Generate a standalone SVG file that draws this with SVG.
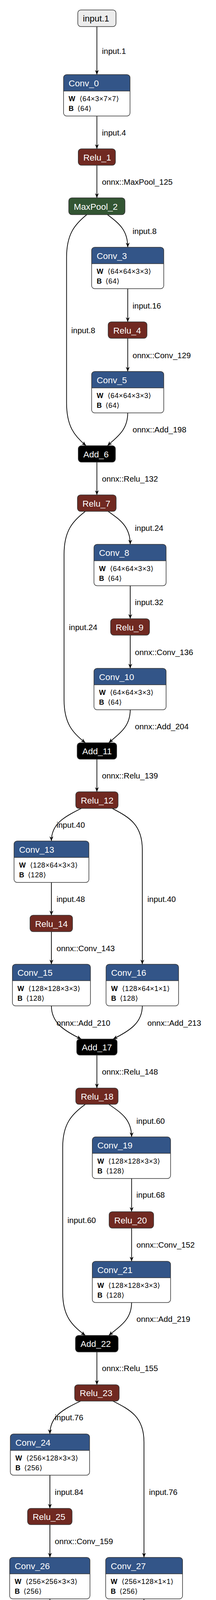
<svg xmlns="http://www.w3.org/2000/svg" width="554" height="7218" viewBox="0 0 554 7218">
<style>
text{font-family:"Liberation Sans",Arial,"DejaVu Sans",sans-serif}
.bd{fill:none;stroke:#333;stroke-width:1.5}
.wh{fill:#fff}
.io{fill:#ececec;stroke:#333;stroke-width:1.5}
.conv{fill:#335588}
.relu{fill:#702921;stroke:#333;stroke-width:1.5}
.pool{fill:#335533;stroke:#333;stroke-width:1.5}
.add{fill:#000;stroke:#333;stroke-width:1.5}
.flat{fill:#6c4f47;stroke:#333;stroke-width:1.5}
.sep{stroke:#333;stroke-width:1.5}
.t{font-size:22.5px;fill:#fff}
.tb{font-size:22.5px;fill:#000}
.a{font-size:18px;fill:#000;letter-spacing:0.6px}
.k{font-weight:bold;letter-spacing:0}
.e{fill:none;stroke:#000;stroke-width:1.8;marker-end:url(#arr)}
.l{font-size:20.5px;fill:#000}
</style>
<defs>
<marker id="arr" viewBox="0 0 12 10" refX="12" refY="5" markerWidth="12" markerHeight="10" markerUnits="userSpaceOnUse" orient="auto">
<path d="M0,0 L12,5 L0,10 L4,5 Z" fill="#000"/>
</marker>
</defs>
<rect width="554" height="7218" fill="#fff"/>

<g id="edges">
<path class="e" d="M248.5,68 V191"/><text class="l" x="261.5" y="137.5">input.1</text>
<path class="e" d="M248.5,297 V381"/><text class="l" x="261.5" y="347">input.4</text>
<path class="e" d="M248.5,423 V506.5"/><text class="l" x="261.5" y="473">onnx::MaxPool_125</text>
<path class="e" d="M222.6,549.5 C191.5,574.5 170.7,599.5 170.7,659.5 L170.7,1031 C170.7,1091 190.7,1116 220.8,1141"/><text class="l" x="182.7" y="853">input.8</text>
<path class="e" d="M275.6,549.5 C304.2,571.5 327.6,588 327.6,633"/><text class="l" x="340" y="599">input.8</text>
<path class="e" d="M327.6,739 V824"/><text class="l" x="340" y="790">input.16</text>
<path class="e" d="M327.6,866 V951"/><text class="l" x="340" y="917">onnx::Conv_129</text>
<path class="e" d="M327.6,1057 C327.6,1102 299,1119 275.6,1141"/><text class="l" x="340" y="1107">onnx::Add_198</text>
<path class="e" d="M248.5,1183 V1267"/><text class="l" x="261.5" y="1232.5">onnx::Relu_132</text>
<path class="e" d="M219,1309 C186.2,1334 164.3,1359 164.3,1419 L164.3,1791.5 C164.3,1851.5 186.2,1876.5 219,1901.5"/><text class="l" x="176.7" y="1613">input.24</text>
<path class="e" d="M277.4,1309 C308.5,1331 334,1348.4 334,1393.5"/><text class="l" x="346" y="1359">input.24</text>
<path class="e" d="M334,1499.5 V1584"/><text class="l" x="346" y="1549">input.32</text>
<path class="e" d="M334,1626 V1711"/><text class="l" x="346" y="1677">onnx::Conv_136</text>
<path class="e" d="M334,1817 C334,1862 303.8,1879.5 279,1901.5"/><text class="l" x="346" y="1867">onnx::Add_204</text>
<path class="e" d="M248.5,1943.5 V2027"/><text class="l" x="261.5" y="1993">onnx::Relu_139</text>
<path class="e" d="M208.5,2069.5 C162.5,2092 131.8,2110 131.8,2153"/><text class="l" x="144.9" y="2119">input.40</text>
<path class="e" d="M288,2069.5 C330.4,2092 365,2110 365,2175 L365,2468.5"/><text class="l" x="378" y="2309">input.40</text>
<path class="e" d="M131.8,2259 V2343"/><text class="l" x="144.9" y="2309">input.48</text>
<path class="e" d="M131.8,2385 V2468.5"/><text class="l" x="145" y="2435">onnx::Conv_143</text>
<path class="e" d="M131.8,2575 C131.8,2617 162.5,2638 208.5,2660"/><text class="l" x="145" y="2625.5">onnx::Add_210</text>
<path class="e" d="M365,2575 C365,2617 334.9,2638 289.8,2660"/><text class="l" x="378" y="2625.5">onnx::Add_213</text>
<path class="e" d="M248.5,2701 V2785.6"/><text class="l" x="261.5" y="2751">onnx::Relu_148</text>
<path class="e" d="M219,2827 C184.1,2852 160.8,2877 160.8,2937 L160.8,3308.7 C160.8,3368.7 184.1,3393.7 219,3418.7"/><text class="l" x="173" y="3131">input.60</text>
<path class="e" d="M279,2827 C311.2,2849 337.5,2866 337.5,2910.6"/><text class="l" x="349.8" y="2876.6">input.60</text>
<path class="e" d="M337.5,3017 V3102"/><text class="l" x="349.8" y="3066">input.68</text>
<path class="e" d="M337.5,3144 V3229"/><text class="l" x="350" y="3194">onnx::Conv_152</text>
<path class="e" d="M337.5,3334.5 C337.5,3379.5 305.3,3396.7 279,3418.7"/><text class="l" x="350" y="3384">onnx::Add_219</text>
<path class="e" d="M248.5,3461 V3545"/><text class="l" x="261.5" y="3509.7">onnx::Relu_155</text>
<path class="e" d="M206.7,3586.8 C159.5,3609 128,3627 128,3671"/><text class="l" x="140.6" y="3636">input.76</text>
<path class="e" d="M289.8,3586.8 C333.5,3609 369.3,3627 369.3,3692 L369.3,3987"/><text class="l" x="382.3" y="3827">input.76</text>
<path class="e" d="M128,3776.6 V3861.6"/><text class="l" x="140.6" y="3827">input.84</text>
<path class="e" d="M128,3903 V3987"/><text class="l" x="140.6" y="3952.5">onnx::Conv_159</text>
<path class="e" d="M128,4093 C128,4135 158.8,4155 205,4177"/><text class="l" x="140.6" y="4141.5">onnx::Add_225</text>
<path class="e" d="M369.3,4093 C369.3,4135 338.2,4155 291.5,4177"/><text class="l" x="382.3" y="4141.5">onnx::Add_228</text>
<path class="e" d="M248.5,4218.6 V4303.6"/><text class="l" x="261.5" y="4268">onnx::Relu_164</text>
<path class="e" d="M219,4345 C184.7,4370 161.8,4395 161.8,4455 L161.8,4826.7 C161.8,4886.7 184.7,4911.7 219,4936.7"/><text class="l" x="173.8" y="4647.6">input.96</text>
<path class="e" d="M279,4345 C310.4,4367 336,4384 336,4429"/><text class="l" x="349" y="4394.6">input.96</text>
<path class="e" d="M336,4535 V4620.8"/><text class="l" x="349" y="4584">input.104</text>
<path class="e" d="M336,4661.5 V4747"/><text class="l" x="349" y="4713">onnx::Conv_168</text>
<path class="e" d="M336,4853 C336,4898 304.7,4914.7 279,4936.7"/><text class="l" x="349" y="4902.7">onnx::Add_234</text>
<path class="e" d="M248.5,4979 V5063"/><text class="l" x="261.5" y="5028.4">onnx::Relu_171</text>
<path class="e" d="M208.5,5104.7 C161.2,5127 129.7,5145 129.7,5189"/><text class="l" x="141.3" y="5155">input.112</text>
<path class="e" d="M289.8,5104.7 C332.7,5127 368,5145 368,5210 L368,5505"/><text class="l" x="380" y="5345.5">input.112</text>
<path class="e" d="M129.7,5295 V5378.7"/><text class="l" x="141.3" y="5345.5">input.120</text>
<path class="e" d="M129.7,5421 V5505"/><text class="l" x="142" y="5470.5">onnx::Conv_175</text>
<path class="e" d="M129.7,5611 C129.7,5653 159.8,5673 205,5695"/><text class="l" x="142" y="5660">onnx::Add_240</text>
<path class="e" d="M368,5611 C368,5653 337.4,5673 291.5,5695"/><text class="l" x="380.6" y="5660">onnx::Add_243</text>
<path class="e" d="M248.5,5736.6 V5821"/><text class="l" x="261.5" y="5787">onnx::Relu_180</text>
<path class="e" d="M217.3,5862.7 C180.6,5887.7 156.2,5912.7 156.2,5972.7 L156.2,6345 C156.2,6405 181.3,6430 219,6455"/><text class="l" x="168.5" y="6166.4">input.132</text>
<path class="e" d="M279,5862.7 C313.4,5884.7 341.5,5902 341.5,5947"/><text class="l" x="354" y="5912.6">input.132</text>
<path class="e" d="M341.5,6053 V6138.7"/><text class="l" x="354" y="6103">input.140</text>
<path class="e" d="M341.5,6180 V6265"/><text class="l" x="354" y="6231">onnx::Conv_184</text>
<path class="e" d="M341.5,6371 C341.5,6416 307.1,6433 279,6455"/><text class="l" x="354" y="6420.6">onnx::Add_249</text>
<path class="e" d="M248.5,6497 V6581"/><text class="l" x="261.5" y="6547">onnx::Relu_187</text>
<path class="e" d="M248.5,6622.7 V6707"/><text class="l" x="261.5" y="6672.8">input.148</text>
<path class="e" d="M248.5,6749 V6833"/><text class="l" x="261.5" y="6799">onnx::Flatten_189</text>
<path class="e" d="M248.5,6875 V6959"/><text class="l" x="261.5" y="6925">onnx::Gemm_190</text>
<path class="e" d="M248.5,7065 V7149.6"/><text class="l" x="261.5" y="7115">191</text>
</g>

<g id="input.1"><rect class="io" x="199.5" y="25.5" width="98" height="42.5" rx="8"/><text class="tb" x="212.5" y="55.3">input.1</text></g>

<g id="Conv_0"><rect class="wh" x="163" y="191" width="170.5" height="106" rx="8"/><path class="conv" d="M163,233 V199 A8,8 0 0 1 171,191 H325.5 A8,8 0 0 1 333.5,199 V233 Z"/><line class="sep" x1="163" y1="233" x2="333.5" y2="233"/><rect class="bd" x="163" y="191" width="170.5" height="106" rx="8"/><text class="t" x="176" y="220.5">Conv_0</text><text class="a" x="176" y="259"><tspan class="k">W</tspan><tspan x="204">⟨64×3×7×7⟩</tspan></text><text class="a" x="176" y="284"><tspan class="k">B</tspan><tspan x="198.5">⟨64⟩</tspan></text></g>

<g id="Relu_1"><rect class="relu" x="200.7" y="381" width="95.3" height="42" rx="8"/><text class="t" x="213.7" y="410.5">Relu_1</text></g>
<g id="MaxPool_2"><rect class="pool" x="176.3" y="506.5" width="144.2" height="43" rx="8"/><text class="t" x="189.3" y="536.5">MaxPool_2</text></g>

<g id="Conv_3"><rect class="wh" x="235" y="633" width="185" height="106" rx="8"/><path class="conv" d="M235,675 V641 A8,8 0 0 1 243,633 H412 A8,8 0 0 1 420,641 V675 Z"/><line class="sep" x1="235" y1="675" x2="420" y2="675"/><rect class="bd" x="235" y="633" width="185" height="106" rx="8"/><text class="t" x="248" y="662.5">Conv_3</text><text class="a" x="248" y="701"><tspan class="k">W</tspan><tspan x="276">⟨64×64×3×3⟩</tspan></text><text class="a" x="248" y="726"><tspan class="k">B</tspan><tspan x="270.5">⟨64⟩</tspan></text></g>

<g id="Relu_4"><rect class="relu" x="277.4" y="824" width="99.6" height="42" rx="8"/><text class="t" x="290.4" y="853.5">Relu_4</text></g>

<g id="Conv_5"><rect class="wh" x="235" y="951" width="185" height="106" rx="8"/><path class="conv" d="M235,993 V959 A8,8 0 0 1 243,951 H412 A8,8 0 0 1 420,959 V993 Z"/><line class="sep" x1="235" y1="993" x2="420" y2="993"/><rect class="bd" x="235" y="951" width="185" height="106" rx="8"/><text class="t" x="248" y="980.5">Conv_5</text><text class="a" x="248" y="1019"><tspan class="k">W</tspan><tspan x="276">⟨64×64×3×3⟩</tspan></text><text class="a" x="248" y="1044"><tspan class="k">B</tspan><tspan x="270.5">⟨64⟩</tspan></text></g>

<g id="Add_6"><rect class="add" x="200.7" y="1141" width="95.3" height="42" rx="8"/><text class="t" x="213.7" y="1170.5">Add_6</text></g>
<g id="Relu_7"><rect class="relu" x="198.6" y="1267" width="99.3" height="42" rx="8"/><text class="t" x="211.6" y="1296.5">Relu_7</text></g>

<g id="Conv_8"><rect class="wh" x="241" y="1393.5" width="185" height="106" rx="8"/><path class="conv" d="M241,1435.5 V1401.5 A8,8 0 0 1 249,1393.5 H418 A8,8 0 0 1 426,1401.5 V1435.5 Z"/><line class="sep" x1="241" y1="1435.5" x2="426" y2="1435.5"/><rect class="bd" x="241" y="1393.5" width="185" height="106" rx="8"/><text class="t" x="254" y="1423">Conv_8</text><text class="a" x="254" y="1461.5"><tspan class="k">W</tspan><tspan x="282">⟨64×64×3×3⟩</tspan></text><text class="a" x="254" y="1486.5"><tspan class="k">B</tspan><tspan x="276.5">⟨64⟩</tspan></text></g>

<g id="Relu_9"><rect class="relu" x="283.7" y="1584" width="99.7" height="42" rx="8"/><text class="t" x="296.7" y="1613.5">Relu_9</text></g>

<g id="Conv_10"><rect class="wh" x="241" y="1711" width="185" height="106" rx="8"/><path class="conv" d="M241,1753 V1719 A8,8 0 0 1 249,1711 H418 A8,8 0 0 1 426,1719 V1753 Z"/><line class="sep" x1="241" y1="1753" x2="426" y2="1753"/><rect class="bd" x="241" y="1711" width="185" height="106" rx="8"/><text class="t" x="254" y="1740.5">Conv_10</text><text class="a" x="254" y="1779"><tspan class="k">W</tspan><tspan x="282">⟨64×64×3×3⟩</tspan></text><text class="a" x="254" y="1804"><tspan class="k">B</tspan><tspan x="276.5">⟨64⟩</tspan></text></g>

<g id="Add_11"><rect class="add" x="197.9" y="1901.5" width="101.4" height="42" rx="8"/><text class="t" x="210.9" y="1931">Add_11</text></g>
<g id="Relu_12"><rect class="relu" x="194.3" y="2027" width="108.5" height="42.5" rx="8"/><text class="t" x="207.3" y="2056.8">Relu_12</text></g>

<g id="Conv_13"><rect class="wh" x="36" y="2153" width="192" height="106" rx="8"/><path class="conv" d="M36,2195 V2161 A8,8 0 0 1 44,2153 H220 A8,8 0 0 1 228,2161 V2195 Z"/><line class="sep" x1="36" y1="2195" x2="228" y2="2195"/><rect class="bd" x="36" y="2153" width="192" height="106" rx="8"/><text class="t" x="49" y="2182.5">Conv_13</text><text class="a" x="49" y="2221"><tspan class="k">W</tspan><tspan x="77">⟨128×64×3×3⟩</tspan></text><text class="a" x="49" y="2246"><tspan class="k">B</tspan><tspan x="71.5">⟨128⟩</tspan></text></g>

<g id="Relu_14"><rect class="relu" x="77" y="2343" width="109" height="42" rx="8"/><text class="t" x="90" y="2372.5">Relu_14</text></g>

<g id="Conv_15"><rect class="wh" x="31.8" y="2468.5" width="200.2" height="106.5" rx="8"/><path class="conv" d="M31.8,2510.5 V2476.5 A8,8 0 0 1 39.8,2468.5 H224 A8,8 0 0 1 232,2476.5 V2510.5 Z"/><line class="sep" x1="31.8" y1="2510.5" x2="232" y2="2510.5"/><rect class="bd" x="31.8" y="2468.5" width="200.2" height="106.5" rx="8"/><text class="t" x="44.8" y="2498">Conv_15</text><text class="a" x="44.8" y="2536.5"><tspan class="k">W</tspan><tspan x="72.8">⟨128×128×3×3⟩</tspan></text><text class="a" x="44.8" y="2561.5"><tspan class="k">B</tspan><tspan x="67.3">⟨128⟩</tspan></text></g>

<g id="Conv_16"><rect class="wh" x="272" y="2468.5" width="186" height="106.5" rx="8"/><path class="conv" d="M272,2510.5 V2476.5 A8,8 0 0 1 280,2468.5 H450 A8,8 0 0 1 458,2476.5 V2510.5 Z"/><line class="sep" x1="272" y1="2510.5" x2="458" y2="2510.5"/><rect class="bd" x="272" y="2468.5" width="186" height="106.5" rx="8"/><text class="t" x="285" y="2498">Conv_16</text><text class="a" x="285" y="2536.5"><tspan class="k">W</tspan><tspan x="313">⟨128×64×1×1⟩</tspan></text><text class="a" x="285" y="2561.5"><tspan class="k">B</tspan><tspan x="307.5">⟨128⟩</tspan></text></g>

<g id="Add_17"><rect class="add" x="196.8" y="2660" width="103.6" height="41" rx="8"/><text class="t" x="209.8" y="2689">Add_17</text></g>
<g id="Relu_18"><rect class="relu" x="194.3" y="2785.6" width="108.5" height="41.5" rx="8"/><text class="t" x="207.3" y="2815">Relu_18</text></g>

<g id="Conv_19"><rect class="wh" x="236.7" y="2910.6" width="200.8" height="106.4" rx="8"/><path class="conv" d="M236.7,2952.6 V2918.6 A8,8 0 0 1 244.7,2910.6 H429.5 A8,8 0 0 1 437.5,2918.6 V2952.6 Z"/><line class="sep" x1="236.7" y1="2952.6" x2="437.5" y2="2952.6"/><rect class="bd" x="236.7" y="2910.6" width="200.8" height="106.4" rx="8"/><text class="t" x="249.7" y="2940.1">Conv_19</text><text class="a" x="249.7" y="2978.6"><tspan class="k">W</tspan><tspan x="277.7">⟨128×128×3×3⟩</tspan></text><text class="a" x="249.7" y="3003.6"><tspan class="k">B</tspan><tspan x="272.2">⟨128⟩</tspan></text></g>

<g id="Relu_20"><rect class="relu" x="279.9" y="3102" width="114.1" height="42" rx="8"/><text class="t" x="292.9" y="3131.5">Relu_20</text></g>

<g id="Conv_21"><rect class="wh" x="236.7" y="3229" width="200.8" height="105.5" rx="8"/><path class="conv" d="M236.7,3271 V3237 A8,8 0 0 1 244.7,3229 H429.5 A8,8 0 0 1 437.5,3237 V3271 Z"/><line class="sep" x1="236.7" y1="3271" x2="437.5" y2="3271"/><rect class="bd" x="236.7" y="3229" width="200.8" height="105.5" rx="8"/><text class="t" x="249.7" y="3258.5">Conv_21</text><text class="a" x="249.7" y="3297"><tspan class="k">W</tspan><tspan x="277.7">⟨128×128×3×3⟩</tspan></text><text class="a" x="249.7" y="3322"><tspan class="k">B</tspan><tspan x="272.2">⟨128⟩</tspan></text></g>

<g id="Add_22"><rect class="add" x="193.6" y="3418.7" width="109.4" height="42.3" rx="8"/><text class="t" x="206.6" y="3448.4">Add_22</text></g>
<g id="Relu_23"><rect class="relu" x="191.5" y="3545" width="114.1" height="41.8" rx="8"/><text class="t" x="204.5" y="3574.4">Relu_23</text></g>

<g id="Conv_24"><rect class="wh" x="26.5" y="3671" width="203.2" height="105.6" rx="8"/><path class="conv" d="M26.5,3713 V3679 A8,8 0 0 1 34.5,3671 H221.7 A8,8 0 0 1 229.7,3679 V3713 Z"/><line class="sep" x1="26.5" y1="3713" x2="229.7" y2="3713"/><rect class="bd" x="26.5" y="3671" width="203.2" height="105.6" rx="8"/><text class="t" x="39.5" y="3700.5">Conv_24</text><text class="a" x="39.5" y="3739"><tspan class="k">W</tspan><tspan x="67.5">⟨256×128×3×3⟩</tspan></text><text class="a" x="39.5" y="3764"><tspan class="k">B</tspan><tspan x="62">⟨256⟩</tspan></text></g>

<g id="Relu_25"><rect class="relu" x="70.7" y="3861.6" width="114.1" height="41.4" rx="8"/><text class="t" x="83.7" y="3890.8">Relu_25</text></g>

<g id="Conv_26"><rect class="wh" x="24.7" y="3987" width="206" height="106" rx="8"/><path class="conv" d="M24.7,4029 V3995 A8,8 0 0 1 32.7,3987 H222.7 A8,8 0 0 1 230.7,3995 V4029 Z"/><line class="sep" x1="24.7" y1="4029" x2="230.7" y2="4029"/><rect class="bd" x="24.7" y="3987" width="206" height="106" rx="8"/><text class="t" x="37.7" y="4016.5">Conv_26</text><text class="a" x="37.7" y="4055"><tspan class="k">W</tspan><tspan x="65.7">⟨256×256×3×3⟩</tspan></text><text class="a" x="37.7" y="4080"><tspan class="k">B</tspan><tspan x="60.2">⟨256⟩</tspan></text></g>

<g id="Conv_27"><rect class="wh" x="271" y="3987" width="197.2" height="106" rx="8"/><path class="conv" d="M271,4029 V3995 A8,8 0 0 1 279,3987 H460.2 A8,8 0 0 1 468.2,3995 V4029 Z"/><line class="sep" x1="271" y1="4029" x2="468.2" y2="4029"/><rect class="bd" x="271" y="3987" width="197.2" height="106" rx="8"/><text class="t" x="284" y="4016.5">Conv_27</text><text class="a" x="284" y="4055"><tspan class="k">W</tspan><tspan x="312">⟨256×128×1×1⟩</tspan></text><text class="a" x="284" y="4080"><tspan class="k">B</tspan><tspan x="306.5">⟨256⟩</tspan></text></g>

<g id="Add_28"><rect class="add" x="193.3" y="4177" width="110.6" height="41.6" rx="8"/><text class="t" x="206.3" y="4206.3">Add_28</text></g>
<g id="Relu_29"><rect class="relu" x="191.5" y="4303.6" width="114.1" height="41.4" rx="8"/><text class="t" x="204.5" y="4332.8">Relu_29</text></g>

<g id="Conv_30"><rect class="wh" x="233" y="4429" width="206" height="106" rx="8"/><path class="conv" d="M233,4471 V4437 A8,8 0 0 1 241,4429 H431 A8,8 0 0 1 439,4437 V4471 Z"/><line class="sep" x1="233" y1="4471" x2="439" y2="4471"/><rect class="bd" x="233" y="4429" width="206" height="106" rx="8"/><text class="t" x="246" y="4458.5">Conv_30</text><text class="a" x="246" y="4497"><tspan class="k">W</tspan><tspan x="274">⟨256×256×3×3⟩</tspan></text><text class="a" x="246" y="4522"><tspan class="k">B</tspan><tspan x="268.5">⟨256⟩</tspan></text></g>

<g id="Relu_31"><rect class="relu" x="281" y="4620.8" width="110" height="40.7" rx="8"/><text class="t" x="294" y="4649.7">Relu_31</text></g>

<g id="Conv_32"><rect class="wh" x="233" y="4747" width="206" height="106" rx="8"/><path class="conv" d="M233,4789 V4755 A8,8 0 0 1 241,4747 H431 A8,8 0 0 1 439,4755 V4789 Z"/><line class="sep" x1="233" y1="4789" x2="439" y2="4789"/><rect class="bd" x="233" y="4747" width="206" height="106" rx="8"/><text class="t" x="246" y="4776.5">Conv_32</text><text class="a" x="246" y="4815"><tspan class="k">W</tspan><tspan x="274">⟨256×256×3×3⟩</tspan></text><text class="a" x="246" y="4840"><tspan class="k">B</tspan><tspan x="268.5">⟨256⟩</tspan></text></g>

<g id="Add_33"><rect class="add" x="193.6" y="4936.7" width="109.4" height="42.3" rx="8"/><text class="t" x="206.6" y="4966.4">Add_33</text></g>
<g id="Relu_34"><rect class="relu" x="191.5" y="5063" width="114.1" height="41.7" rx="8"/><text class="t" x="204.5" y="5092.4">Relu_34</text></g>

<g id="Conv_35"><rect class="wh" x="28.3" y="5189" width="203.1" height="106" rx="8"/><path class="conv" d="M28.3,5231 V5197 A8,8 0 0 1 36.3,5189 H223.4 A8,8 0 0 1 231.4,5197 V5231 Z"/><line class="sep" x1="28.3" y1="5231" x2="231.4" y2="5231"/><rect class="bd" x="28.3" y="5189" width="203.1" height="106" rx="8"/><text class="t" x="41.3" y="5218.5">Conv_35</text><text class="a" x="41.3" y="5257"><tspan class="k">W</tspan><tspan x="69.3">⟨512×256×3×3⟩</tspan></text><text class="a" x="41.3" y="5282"><tspan class="k">B</tspan><tspan x="63.8">⟨512⟩</tspan></text></g>

<g id="Relu_36"><rect class="relu" x="72.4" y="5378.7" width="113.8" height="42.3" rx="8"/><text class="t" x="85.4" y="5408.4">Relu_36</text></g>

<g id="Conv_37"><rect class="wh" x="30" y="5505" width="199.7" height="106" rx="8"/><path class="conv" d="M30,5547 V5513 A8,8 0 0 1 38,5505 H221.7 A8,8 0 0 1 229.7,5513 V5547 Z"/><line class="sep" x1="30" y1="5547" x2="229.7" y2="5547"/><rect class="bd" x="30" y="5505" width="199.7" height="106" rx="8"/><text class="t" x="43" y="5534.5">Conv_37</text><text class="a" x="43" y="5573"><tspan class="k">W</tspan><tspan x="71">⟨512×512×3×3⟩</tspan></text><text class="a" x="43" y="5598"><tspan class="k">B</tspan><tspan x="65.5">⟨512⟩</tspan></text></g>

<g id="Conv_38"><rect class="wh" x="269" y="5505" width="196.7" height="106" rx="8"/><path class="conv" d="M269,5547 V5513 A8,8 0 0 1 277,5505 H457.7 A8,8 0 0 1 465.7,5513 V5547 Z"/><line class="sep" x1="269" y1="5547" x2="465.7" y2="5547"/><rect class="bd" x="269" y="5505" width="196.7" height="106" rx="8"/><text class="t" x="282" y="5534.5">Conv_38</text><text class="a" x="282" y="5573"><tspan class="k">W</tspan><tspan x="310">⟨512×256×1×1⟩</tspan></text><text class="a" x="282" y="5598"><tspan class="k">B</tspan><tspan x="304.5">⟨512⟩</tspan></text></g>

<g id="Add_39"><rect class="add" x="193.6" y="5695" width="109.4" height="41.6" rx="8"/><text class="t" x="206.6" y="5724.3">Add_39</text></g>
<g id="Relu_40"><rect class="relu" x="191.5" y="5821" width="114.1" height="41.7" rx="8"/><text class="t" x="204.5" y="5850.4">Relu_40</text></g>

<g id="Conv_41"><rect class="wh" x="241.3" y="5947" width="200.4" height="106" rx="8"/><path class="conv" d="M241.3,5989 V5955 A8,8 0 0 1 249.3,5947 H433.7 A8,8 0 0 1 441.7,5955 V5989 Z"/><line class="sep" x1="241.3" y1="5989" x2="441.7" y2="5989"/><rect class="bd" x="241.3" y="5947" width="200.4" height="106" rx="8"/><text class="t" x="254.3" y="5976.5">Conv_41</text><text class="a" x="254.3" y="6015"><tspan class="k">W</tspan><tspan x="282.3">⟨512×512×3×3⟩</tspan></text><text class="a" x="254.3" y="6040"><tspan class="k">B</tspan><tspan x="276.8">⟨512⟩</tspan></text></g>

<g id="Relu_42"><rect class="relu" x="284.5" y="6138.7" width="113.7" height="41.5" rx="8"/><text class="t" x="297.5" y="6168">Relu_42</text></g>

<g id="Conv_43"><rect class="wh" x="241.3" y="6265" width="200.4" height="106" rx="8"/><path class="conv" d="M241.3,6307 V6273 A8,8 0 0 1 249.3,6265 H433.7 A8,8 0 0 1 441.7,6273 V6307 Z"/><line class="sep" x1="241.3" y1="6307" x2="441.7" y2="6307"/><rect class="bd" x="241.3" y="6265" width="200.4" height="106" rx="8"/><text class="t" x="254.3" y="6294.5">Conv_43</text><text class="a" x="254.3" y="6333"><tspan class="k">W</tspan><tspan x="282.3">⟨512×512×3×3⟩</tspan></text><text class="a" x="254.3" y="6358"><tspan class="k">B</tspan><tspan x="276.8">⟨512⟩</tspan></text></g>

<g id="Add_44"><rect class="add" x="193.6" y="6455" width="109.4" height="42" rx="8"/><text class="t" x="206.6" y="6484.5">Add_44</text></g>
<g id="Relu_45"><rect class="relu" x="191.5" y="6581" width="114.1" height="41.7" rx="8"/><text class="t" x="204.5" y="6610.4">Relu_45</text></g>
<g id="GlobalAveragePool_46"><rect class="pool" x="115.5" y="6707" width="266.1" height="42" rx="8"/><text class="t" x="128.5" y="6736.5">GlobalAveragePool_46</text></g>
<g id="Flatten_47"><rect class="flat" x="178.8" y="6833" width="139.9" height="42" rx="8"/><text class="t" x="191.8" y="6862.5">Flatten_47</text></g>

<g id="Gemm_48"><rect class="wh" x="168.5" y="6959" width="160.1" height="106" rx="8"/><path class="conv" d="M168.5,7001 V6967 A8,8 0 0 1 176.5,6959 H320.6 A8,8 0 0 1 328.6,6967 V7001 Z"/><line class="sep" x1="168.5" y1="7001" x2="328.6" y2="7001"/><rect class="bd" x="168.5" y="6959" width="160.1" height="106" rx="8"/><text class="t" x="181.5" y="6988.5">Gemm_48</text><text class="a" x="181.5" y="7027"><tspan class="k">B</tspan><tspan x="204">⟨1000×512⟩</tspan></text><text class="a" x="181.5" y="7052"><tspan class="k">C</tspan><tspan x="204">⟨1000⟩</tspan></text></g>

<g id="output_191"><rect class="io" x="216.6" y="7149.6" width="63.3" height="40.4" rx="8"/><text class="tb" x="229.6" y="7178.3">191</text></g>
</svg>
